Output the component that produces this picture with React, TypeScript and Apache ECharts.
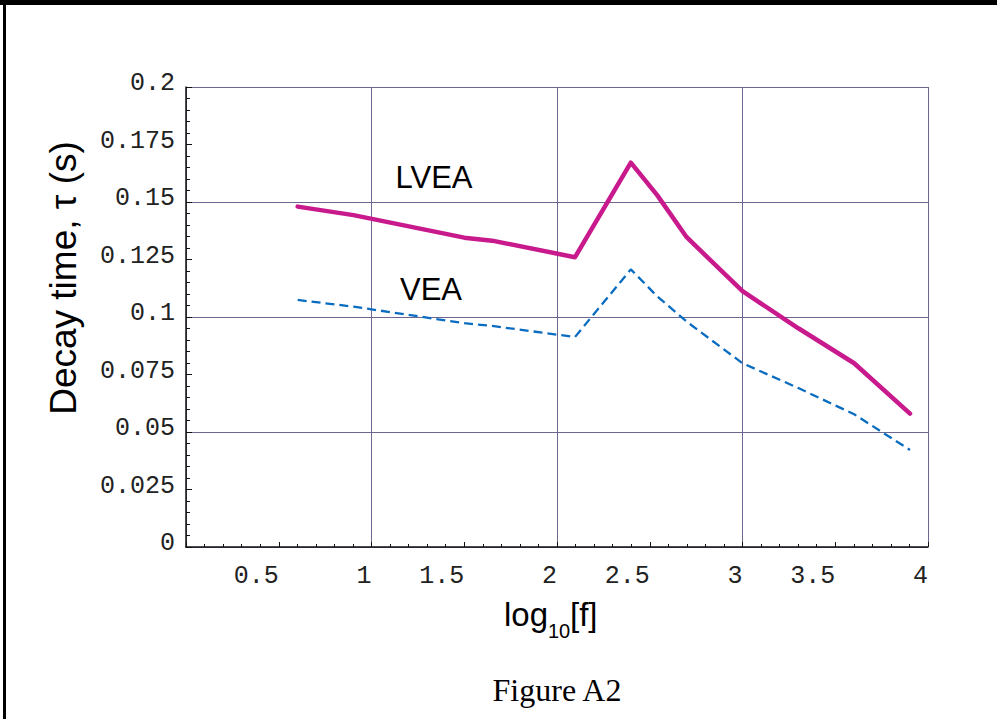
import React, { useEffect, useRef } from "react";
import * as echarts from "echarts";

const logF = [0.602, 0.903, 1.5, 1.65, 2.097, 2.398, 2.54, 2.699, 3.0, 3.301, 3.602, 3.903];
const lvea = [0.148, 0.1443, 0.1345, 0.1332, 0.126, 0.1671, 0.153, 0.1347, 0.1112, 0.0951, 0.0799, 0.058];
const vea = [0.1074, 0.1045, 0.0973, 0.0961, 0.0913, 0.1207, 0.109, 0.098, 0.0799, 0.0691, 0.0577, 0.0422];
const xTickLabels = ["0.5", "1", "1.5", "2", "2.5", "3", "3.5", "4"];
const yTickLabels = ["0", "0.025", "0.05", "0.075", "0.1", "0.125", "0.15", "0.175", "0.2"];

const GRID_COLOR = "#6c6690";

export default function App() {
  const ref = useRef<HTMLDivElement>(null);
  useEffect(() => {
    if (!ref.current) return;
    const chart = echarts.init(ref.current, null, { renderer: "svg" });
    const tickFont = { fontFamily: "Liberation Mono", fontSize: 25, color: "#222" };
    const sans = "'Liberation Sans', Arial, sans-serif";
    chart.setOption({
      animation: false,
      backgroundColor: "#fff",
      grid: { left: 186, top: 87, right: 69, bottom: 172, containLabel: false },
      xAxis: [
        {
          type: "value",
          min: 0,
          max: 4,
          interval: 0.5,
          axisLine: { show: true, onZero: false, lineStyle: { color: "#111", width: 1.5 } },
          axisTick: { show: true, inside: true, length: 5, lineStyle: { color: "#111", width: 1 } },
          minorTick: { show: true, splitNumber: 5, length: 3, lineStyle: { color: "#111", width: 1 } },
          axisLabel: {
            ...tickFont,
            align: "right",
            margin: 17,
            formatter: (v: number) => {
              const s = String(+v.toFixed(2));
              return xTickLabels.includes(s) ? s : "";
            },
          },
          splitLine: { show: false },
          z: 10,
        },
        {
          type: "value",
          min: 0,
          max: 4,
          interval: 1,
          position: "bottom",
          axisLine: { show: false },
          axisTick: { show: false },
          axisLabel: { show: false },
          splitLine: { show: true, lineStyle: { color: GRID_COLOR, width: 1 } },
          z: 0,
        },
      ],
      yAxis: [
        {
          type: "value",
          min: 0,
          max: 0.2,
          interval: 0.025,
          axisLine: { show: true, onZero: false, lineStyle: { color: "#111", width: 1.5 } },
          axisTick: { show: true, inside: true, length: 6, lineStyle: { color: "#111", width: 1 } },
          minorTick: { show: true, splitNumber: 5, length: 4, lineStyle: { color: "#111", width: 1 } },
          axisLabel: {
            ...tickFont,
            margin: 11,
            verticalAlign: "bottom",
            lineHeight: 7,
            formatter: (v: number) => {
              const s = String(+v.toFixed(3));
              return yTickLabels.includes(s) ? s : "";
            },
          },
          splitLine: { show: false },
          z: 10,
        },
        {
          type: "value",
          min: 0,
          max: 0.2,
          interval: 0.05,
          position: "left",
          axisLine: { show: false },
          axisTick: { show: false },
          axisLabel: { show: false },
          splitLine: { show: true, lineStyle: { color: GRID_COLOR, width: 1 } },
          z: 0,
        },
      ],
      series: [
        {
          name: "LVEA",
          type: "line",
          data: logF.map((x, i) => [x, lvea[i]]),
          showSymbol: false,
          symbol: "none",
          lineStyle: { color: "#c81a8c", width: 4.5, cap: "round", join: "round" },
          z: 5,
        },
        {
          name: "VEA",
          type: "line",
          data: logF.map((x, i) => [x, vea[i]]),
          showSymbol: false,
          symbol: "none",
          lineStyle: { color: "#0a6cc0", width: 2.3, type: [9, 5] },
          z: 4,
        },
      ],
      graphic: [
        { type: "rect", shape: { x: 0, y: 0, width: 997, height: 5 }, style: { fill: "#000" }, z: 100 },
        { type: "rect", shape: { x: 3, y: 0, width: 3, height: 719 }, style: { fill: "#000" }, z: 100 },
        {
          type: "text",
          x: 434,
          y: 177,
          style: { text: "LVEA", font: `31px ${sans}`, fill: "#000", align: "center", verticalAlign: "middle" },
        },
        {
          type: "text",
          x: 431,
          y: 289,
          style: { text: "VEA", font: `31px ${sans}`, fill: "#000", align: "center", verticalAlign: "middle" },
        },
        {
          type: "text",
          x: 63,
          y: 278,
          rotation: Math.PI / 2,
          style: {
            text: "Decay time, τ (s)",
            font: `37px ${sans}`,
            fill: "#000",
            align: "center",
            verticalAlign: "middle",
          },
        },
        {
          type: "text",
          x: 548,
          y: 614,
          style: { text: "log", font: `33px ${sans}`, fill: "#000", align: "right", verticalAlign: "middle" },
        },
        {
          type: "text",
          x: 548,
          y: 631,
          style: { text: "10", font: `20px ${sans}`, fill: "#000", align: "left", verticalAlign: "middle" },
        },
        {
          type: "text",
          x: 570,
          y: 614,
          style: { text: "[f]", font: `33px ${sans}`, fill: "#000", align: "left", verticalAlign: "middle" },
        },
        {
          type: "text",
          x: 557,
          y: 690,
          style: {
            text: "Figure A2",
            font: "32px 'Liberation Serif', 'Times New Roman', serif",
            fill: "#000",
            align: "center",
            verticalAlign: "middle",
          },
        },
      ],
    });
    return () => chart.dispose();
  }, []);
  return <div ref={ref} style={{ position: "absolute", left: 0, top: 0, width: 997, height: 719 }} />;
}
